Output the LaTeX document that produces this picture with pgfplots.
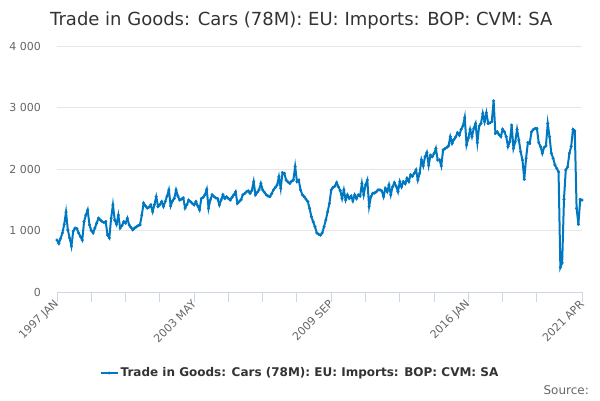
\documentclass[border=0pt]{standalone}
\usepackage{pgfplots}
\pgfplotsset{compat=1.18}
\usepackage{fontspec}
\setmainfont{DejaVu Sans}
\definecolor{linec}{HTML}{0078C1}
\definecolor{gridc}{HTML}{E6E6E6}
\definecolor{axc}{HTML}{CCD6EB}
\definecolor{labc}{HTML}{666666}
\definecolor{titc}{HTML}{333333}
\begin{document}
\begin{tikzpicture}[x=1bp,y=1bp]
\useasboundingbox (0,0) rectangle (600,400);
\node[anchor=base west, inner sep=0pt, text=titc, font=\fontsize{18bp}{20bp}\selectfont] at (50,375) {Trade in Goods: Cars (78M): EU: Imports: BOP: CVM: SA};
\node[anchor=base east, inner sep=0pt, text=labc, font=\fontsize{12bp}{14bp}\selectfont] at (589,6) {Source:};
\begin{axis}[
  at={(57bp,108bp)}, anchor=south west,
  scale only axis, width=525bp, height=246bp,
  xmin=0, xmax=291, ymin=0, ymax=4000,
  axis x line*=bottom, axis y line*=left,
  y axis line style={draw=none},
  x axis line style={draw=axc, line width=1bp, -},
  tick align=outside,
  major tick length=10bp,
  minor tick length=10bp,
  xtick style={draw=axc, line width=1bp},
  minor x tick style={draw=axc, line width=1bp},
  ytick style={draw=none},
  ymajorgrids, grid style={draw=gridc, line width=1bp},
  xtick={0,76,152,228,291},
  minor xtick={19,38,57,95,114,133,171,190,209,247,266},
  xticklabels={1997 JAN,2003 MAY,2009 SEP,2016 JAN,2021 APR},
  ytick={0,1000,2000,3000,4000},
  yticklabels={0,1 000,2 000,3 000,4 000},
  ticklabel style={font=\fontsize{11bp}{13bp}\selectfont, text=labc},
  yticklabel style={anchor=east, inner sep=0pt, xshift=-6bp},
  xticklabel style={rotate=45, anchor=east, inner sep=0pt},
  clip=false,
  legend style={at={(axis description cs:0.4629,-0.3293)}, anchor=center, draw=none, fill=none, font=\bfseries\fontsize{12bp}{14bp}\selectfont, text=titc, inner sep=0pt},
]
\addplot[color=linec, line width=2bp, mark=*, mark size=1.5bp, mark options={fill=linec, draw=linec, line width=0.1bp}] table[x index=0, y index=1, header=false] {
0 845
1 790
2 870
3 960
4 1100
5 1300
6 1010
7 880
8 745
9 990
10 1040
11 1030
12 960
13 900
14 845
15 1145
16 1250
17 1335
18 1090
19 1000
20 960
21 1040
22 1120
23 1200
24 1170
25 1145
26 1130
27 1145
28 925
29 880
30 1200
31 1415
32 1170
33 1100
34 1250
35 1040
36 1080
37 1145
38 1120
39 1200
40 1090
41 1050
42 1010
43 1040
44 1060
45 1080
46 1090
47 1250
48 1445
49 1400
50 1365
51 1380
52 1415
53 1305
54 1420
55 1550
56 1390
57 1420
58 1470
59 1390
60 1470
61 1560
62 1660
63 1400
64 1480
65 1520
66 1660
67 1560
68 1495
69 1510
70 1530
71 1365
72 1420
73 1495
74 1470
75 1440
76 1415
77 1470
78 1400
79 1335
80 1520
81 1540
82 1580
83 1670
84 1360
85 1500
86 1580
87 1550
88 1530
89 1520
90 1415
91 1500
92 1580
93 1520
94 1550
95 1520
96 1495
97 1540
98 1580
99 1630
100 1440
101 1470
102 1500
103 1580
104 1600
105 1630
106 1645
107 1605
108 1650
109 1795
110 1580
111 1620
112 1660
113 1765
114 1660
115 1620
116 1580
117 1560
118 1550
119 1600
120 1660
121 1700
122 1740
123 1875
124 1685
125 1940
126 1930
127 1820
128 1790
129 1765
130 1800
131 1820
132 2040
133 1795
134 1820
135 1660
136 1580
137 1550
138 1510
139 1470
140 1360
141 1225
142 1140
143 1060
144 960
145 940
146 925
147 960
148 1060
149 1170
150 1305
151 1440
152 1660
153 1700
154 1720
155 1780
156 1710
157 1650
158 1520
159 1660
160 1495
161 1580
162 1520
163 1560
164 1480
165 1580
166 1520
167 1580
168 1560
169 1765
170 1580
171 1740
172 1820
173 1390
174 1550
175 1605
176 1610
177 1630
178 1660
179 1660
180 1645
181 1550
182 1685
183 1630
184 1740
185 1580
186 1710
187 1780
188 1720
189 1630
190 1795
191 1710
192 1795
193 1760
194 1850
195 1795
196 1905
197 1880
198 1930
199 1985
200 1820
201 1930
202 2150
203 2050
204 2200
205 2270
206 2060
207 2225
208 2200
209 2250
210 2335
211 2145
212 2150
213 2050
214 2310
215 2330
216 2350
217 2375
218 2525
219 2415
220 2480
221 2520
222 2590
223 2550
224 2645
225 2700
226 2840
227 2390
228 2500
229 2645
230 2525
231 2660
232 2740
233 2430
234 2700
235 2740
236 2905
237 2770
238 2915
239 2740
240 2750
241 2770
242 3110
243 2580
244 2605
245 2560
246 2525
247 2645
248 2605
249 2525
250 2365
251 2445
252 2715
253 2335
254 2445
255 2645
256 2470
257 2280
258 2145
259 1830
260 2175
261 2430
262 2415
263 2605
264 2640
265 2660
266 2660
267 2430
268 2365
269 2255
270 2350
271 2375
272 2740
273 2525
274 2255
275 2175
276 2065
277 2010
278 1955
279 400
280 475
281 1505
282 1985
283 2030
284 2255
285 2365
286 2645
287 2620
288 1360
289 1100
290 1505
291 1495
};
\addlegendentry{Trade in Goods: Cars (78M): EU: Imports: BOP: CVM: SA}
\end{axis}
\end{tikzpicture}
\end{document}
